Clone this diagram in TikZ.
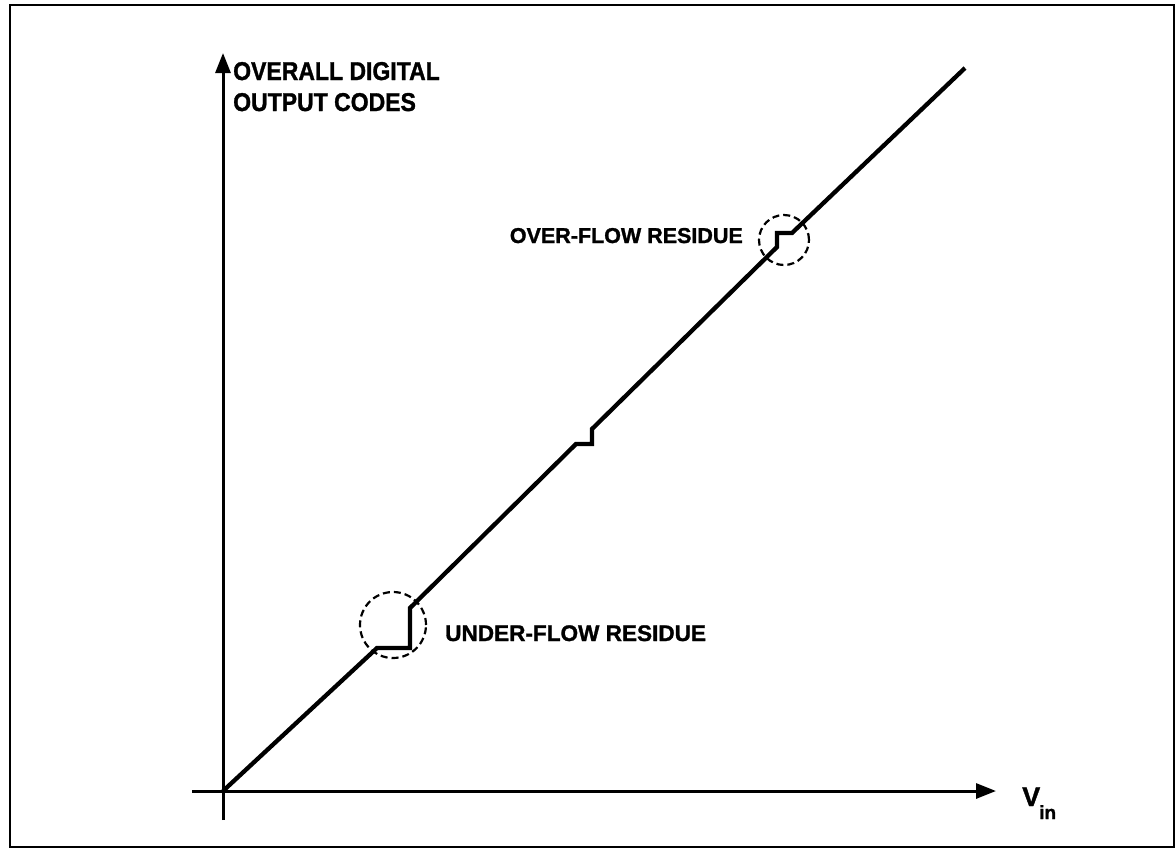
\documentclass[tikz,border=0pt]{standalone}
\usepackage{fontspec}
\setmainfont{Liberation Sans}[BoldFeatures={FakeBold=1.3}]
\usetikzlibrary{arrows.meta}
\begin{document}
\begin{tikzpicture}[x=1pt,y=-1pt,
  axisline/.style={line width=3pt,-{Triangle[length=20pt,width=15pt]}},
  stepline/.style={line width=4.3pt,line join=miter},
  ring/.style={circle,draw,line width=2.2pt,dash pattern=on 7pt off 4pt,inner sep=0pt},
  lbl/.style={inner sep=0pt,font=\bfseries\fontsize{21.5}{21.5}\selectfont}]
\useasboundingbox (0,0) rectangle (1176,852);
\draw[line width=2.7pt] (10,5) rectangle (1174,847);
% axes
\coordinate (O) at (223,791);
\coordinate (xs) at (192,791);
\coordinate (xe) at (996,791);
\coordinate (ys) at (223,820);
\coordinate (ye) at (223,53);
\draw[axisline] (xs) -- (xe);
\draw[axisline] (ys) -- (ye);
% staircase transfer line
\coordinate (A1) at (377,648);
\coordinate (A2) at (410,648);
\coordinate (A3) at (410,608);
\coordinate (B1) at (576,444);
\coordinate (B2) at (592,444);
\coordinate (B3) at (592,429);
\coordinate (C1) at (777,247);
\coordinate (C2) at (777,233);
\coordinate (C3) at (792,233);
\coordinate (E) at (965,68);
\draw[stepline] (O) -- (A1) -- (A2) -- (A3) -- (B1) -- (B2) -- (B3) -- (C1) -- (C2) -- (C3) -- (E);
% circles
\node[ring,minimum size=66pt] (uf) at (393,625) {};
\node[ring,minimum size=50pt] (of) at (784,240) {};
% labels
\node[lbl,anchor=base west] (ufl) at (445,641) {\scalebox{1.05}[1.05]{UNDER-FLOW RESIDUE}};
\node[lbl,anchor=base east] (ofl) at (743,243) {OVER-FLOW RESIDUE};
\node[inner sep=0pt,anchor=base west,font=\bfseries\fontsize{23}{23}\selectfont] (title1) at (233,80) {\scalebox{1}[1.12]{OVERALL DIGITAL}};
\node[inner sep=0pt,anchor=base west,font=\bfseries\fontsize{23}{23}\selectfont] (title2) at (233,111) {\scalebox{1}[1.12]{OUTPUT CODES}};
\node[inner sep=0pt,anchor=base west] (vin) at (1022,806) {\bfseries\fontsize{27}{27}\selectfont V\kern-1pt\raisebox{-13pt}{\fontsize{19}{19}\selectfont in}};
\end{tikzpicture}
\end{document}
